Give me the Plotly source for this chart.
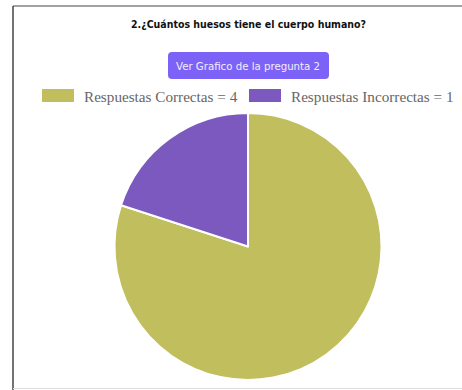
import plotly.graph_objects as go

title = "2.¿Cuántos huesos tiene el cuerpo humano?"
button_text = "Ver Grafico de la pregunta 2"
labels = ["Respuestas Correctas", "Respuestas Incorrectas"]
values = [4, 1]
colors = ["#C1BE5D", "#7B59BF"]

W, H = 462, 390

def px(x):
    return x / W

def py(y):
    return 1 - y / H

def rounded_rect(x0, y0, x1, y1, r):
    return (f"M {px(x0+r)} {py(y0)} L {px(x1-r)} {py(y0)} Q {px(x1)} {py(y0)} {px(x1)} {py(y0+r)} "
            f"L {px(x1)} {py(y1-r)} Q {px(x1)} {py(y1)} {px(x1-r)} {py(y1)} "
            f"L {px(x0+r)} {py(y1)} Q {px(x0)} {py(y1)} {px(x0)} {py(y1-r)} "
            f"L {px(x0)} {py(y0+r)} Q {px(x0)} {py(y0)} {px(x0+r)} {py(y0)} Z")

fig = go.Figure()
fig.add_trace(go.Pie(
    labels=labels, values=values, sort=False, direction="clockwise", rotation=0,
    marker=dict(colors=colors, line=dict(color="white", width=2)),
    textinfo="none", hoverinfo="label+value", showlegend=False,
    domain=dict(x=[px(114), px(382)], y=[py(380), py(113)]),
))

shapes = [
    dict(type="line", xref="paper", yref="paper", x0=px(13), x1=px(13), y0=py(6), y1=py(390),
         line=dict(color="#444", width=1.5)),
    dict(type="line", xref="paper", yref="paper", x0=px(13), x1=1, y0=py(6), y1=py(6),
         line=dict(color="#444", width=1.2)),
    dict(type="line", xref="paper", yref="paper", x0=px(13), x1=1, y0=py(388.5), y1=py(388.5),
         line=dict(color="#ddd", width=1)),
    dict(type="path", xref="paper", yref="paper", path=rounded_rect(168, 52, 329, 79, 4),
         fillcolor="#7D62F7", line=dict(width=0), layer="below"),
]
annotations = [
    dict(text="<b>" + title + "</b>", x=px(248), y=py(24), xref="paper", yref="paper",
         showarrow=False, font=dict(family="DejaVu Sans Condensed", size=10.5, color="#111"),
         xanchor="center", yanchor="middle"),
    dict(text=button_text, x=px(248.5), y=py(66), xref="paper", yref="paper",
         showarrow=False, font=dict(family="DejaVu Sans", size=10.2, color="#F2EEFF"),
         xanchor="center", yanchor="middle"),
]
legend_x = [42, 249]
for i, (lab, val, col) in enumerate(zip(labels, values, colors)):
    x0 = legend_x[i]
    shapes.append(dict(type="rect", xref="paper", yref="paper", x0=px(x0), x1=px(x0 + 32),
                       y0=py(102), y1=py(89), fillcolor=col, line=dict(width=0)))
    annotations.append(dict(text=f"{lab} = {val}", x=px(x0 + 40), y=py(96), xref="paper", yref="paper",
                            showarrow=False, xanchor="left", yanchor="middle",
                            font=dict(family="Liberation Serif", size=15.2, color="#666")))

fig.update_layout(
    width=W, height=H, margin=dict(l=0, r=0, t=0, b=0),
    paper_bgcolor="white", plot_bgcolor="white",
    shapes=shapes, annotations=annotations,
)
fig.write_html("out.html", config={"displayModeBar": False},
               post_script="document.body.style.margin='0';document.body.style.overflow='hidden';")
